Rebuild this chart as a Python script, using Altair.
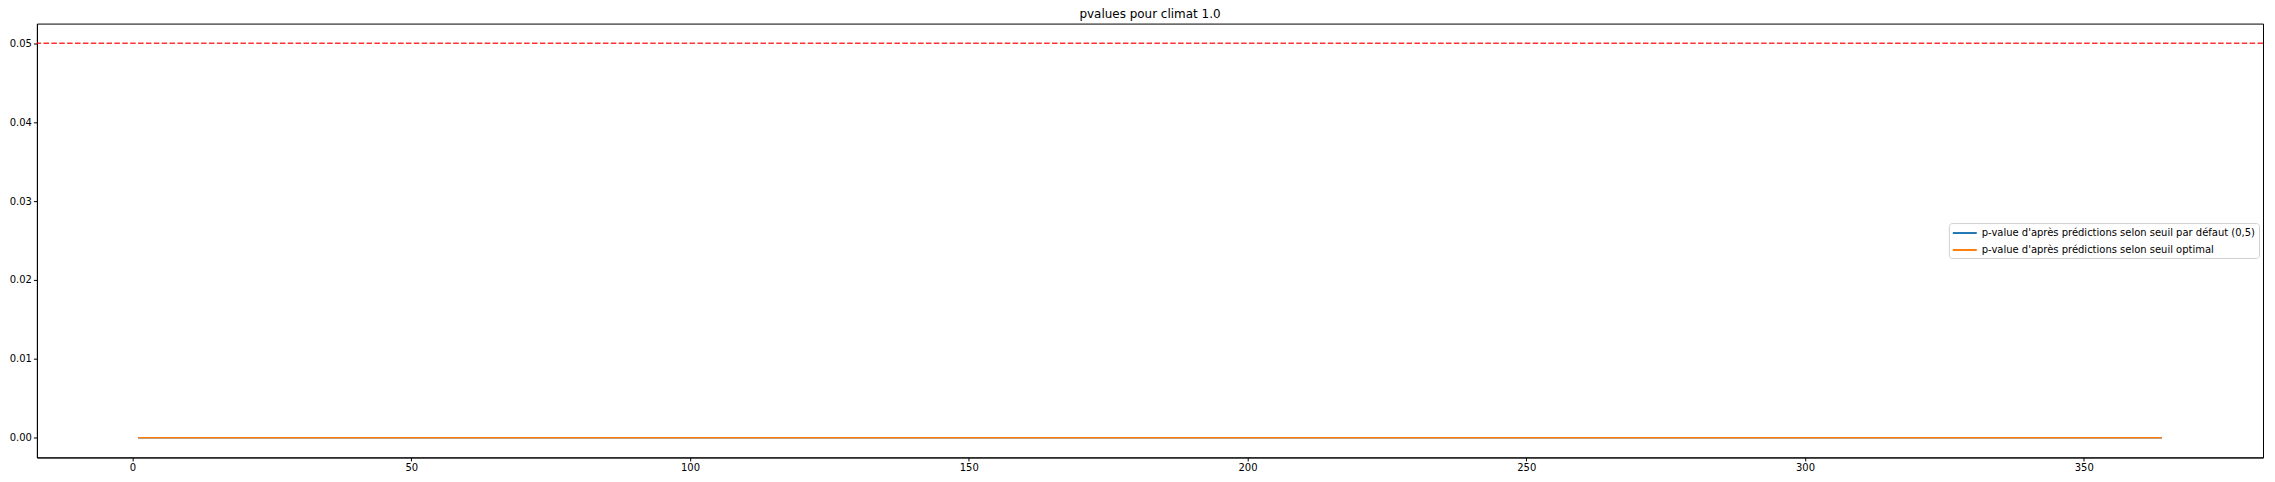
import altair as alt
import pandas as pd

# p-values per day of year, climate 1.0 (all read as ~0 from the figure)
days = list(range(1, 365))
pval_default = [0.0] * len(days)
pval_optimal = [0.0] * len(days)
series = ["p-value d'après prédictions selon seuil par défaut (0,5)",
          "p-value d'après prédictions selon seuil optimal"]
colors = ["#1f77b4", "#ff7f0e"]
x_ticks = [0, 50, 100, 150, 200, 250, 300, 350]
y_ticks = [0.00, 0.01, 0.02, 0.03, 0.04, 0.05]
threshold = 0.05

df = pd.concat([
    pd.DataFrame({"day": days, "pvalue": pval_default, "serie": series[0]}),
    pd.DataFrame({"day": days, "pvalue": pval_optimal, "serie": series[1]}),
])

FONT = "DejaVu Sans"

x = alt.X("day:Q", title=None,
          scale=alt.Scale(domain=[-17.15, 382.15], nice=False, zero=False),
          axis=alt.Axis(values=x_ticks, format="d"))
y = alt.Y("pvalue:Q", title=None,
          scale=alt.Scale(domain=[-0.0025, 0.0525], nice=False, zero=False),
          axis=alt.Axis(values=y_ticks, format=".2f"))

# long legend line on a small symbol box, so that rows stay tight
lines = (
    alt.Chart(df)
    .mark_line(strokeWidth=1.5)
    .encode(
        x=x, y=y,
        color=alt.Color("serie:N",
                        scale=alt.Scale(domain=series, range=colors),
                        legend=alt.Legend(orient="none", legendX=1917, legendY=200,
                                          title=None, symbolType="M-1,0H3",
                                          symbolStrokeWidth=2, symbolSize=144,
                                          labelFont=FONT, labelFontSize=10,
                                          labelOffset=16, labelLimit=0,
                                          labelColor="#000000",
                                          rowPadding=5, padding=3,
                                          strokeColor="#d0d0d0",
                                          fillColor="#ffffff", cornerRadius=3)),
        order=alt.Order("serie:N"),
    )
)

rule = (
    alt.Chart(pd.DataFrame({"y": [threshold]}))
    .mark_rule(color="#ff0000", opacity=0.8, strokeWidth=1.5, strokeDash=[5.5, 2.4])
    .encode(y=alt.Y("y:Q"))
)

chart = (
    alt.layer(lines, rule)
    .properties(width=2232, height=435,
                title=alt.Title("pvalues pour climat 1.0", font=FONT, fontSize=12,
                                fontWeight="normal", color="#000000", offset=3),
                autosize="none",
                padding={"left": 29, "top": 15, "right": 4, "bottom": 22})
    .configure_view(stroke="#000000", strokeWidth=1)
    .configure_axis(grid=False, domainColor="#000000", tickColor="#000000",
                    tickSize=3.5, labelFont=FONT, labelFontSize=10,
                    labelColor="#000000", labelPadding=2)
)

chart.save("out.html", embed_options={"renderer": "svg", "actions": False})
